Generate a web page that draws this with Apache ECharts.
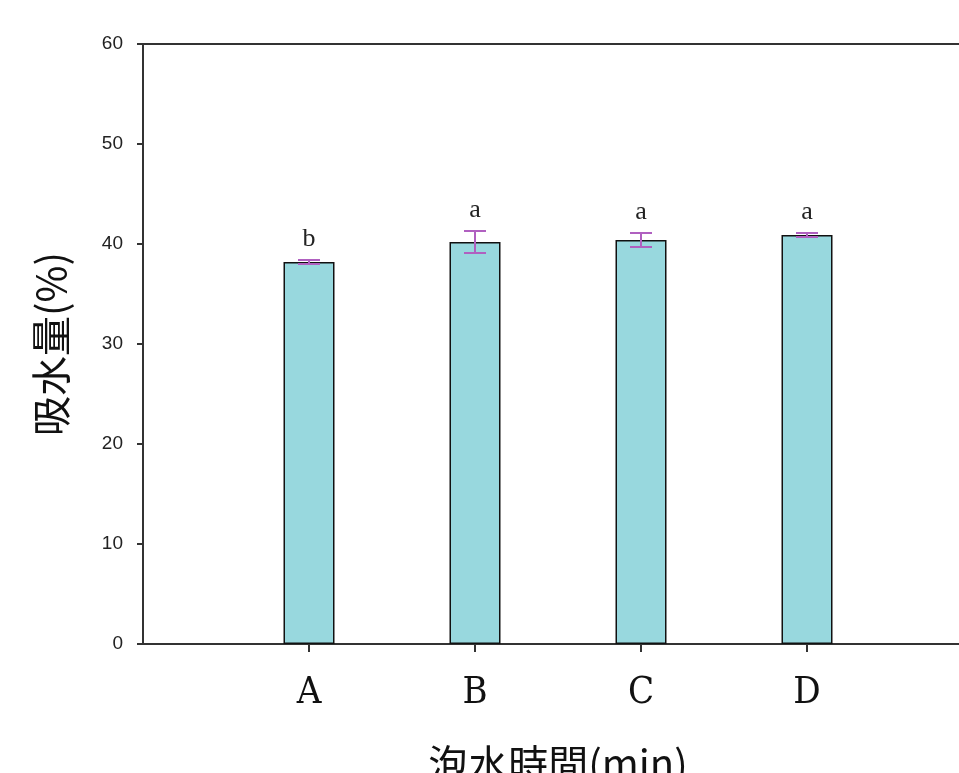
<!DOCTYPE html>
<html><head><meta charset="utf-8">
<script src="https://cdn.jsdelivr.net/npm/echarts@6/dist/echarts.min.js"></script>
<style>html,body{margin:0;padding:0;background:#fff}#c{width:959px;height:773px}</style>
</head><body><div id="c"></div>
<script>
const categories = ['', 'A', 'B', 'C', 'D', ''];
const values = [null, 38.2, 40.2, 40.4, 40.9, null];
const errors = [null, 0.2, 1.1, 0.7, 0.2, null];
const letters = ['', 'b', 'a', 'a', 'a', ''];
const yTicks = [0, 10, 20, 30, 40, 50, 60];

const chart = echarts.init(document.getElementById('c'));
const errData = values.map((v, i) => v == null ? null : [i, v, errors[i], letters[i]]).filter(d => d);

chart.setOption({
  animation: false,
  grid: {left: 143, top: 44, width: 830, height: 600, outerBoundsMode: 'none', containLabel: false, show: true, borderColor: '#333', borderWidth: 2, backgroundColor: 'transparent'},
  xAxis: {
    type: 'category', data: categories, boundaryGap: false,
    axisLine: {lineStyle: {color: '#333', width: 2}},
    axisTick: {show: true, length: 8, lineStyle: {color: '#333', width: 2}, interval: (i, v) => v !== ''},
    axisLabel: {fontFamily: 'DejaVu Serif Condensed, Liberation Serif, serif', fontSize: 38, color: '#111', margin: 30, interval: 0},
    name: '泡水時間(min)', nameLocation: 'middle', nameGap: 100,
    nameTextStyle: {fontFamily: 'Noto Sans CJK TC', fontSize: 40, color: '#111'}
  },
  yAxis: {
    type: 'value', min: yTicks[0], max: yTicks[yTicks.length - 1], interval: 10,
    axisLine: {show: true, lineStyle: {color: '#333', width: 2}},
    axisTick: {show: true, length: 6, lineStyle: {color: '#333', width: 2}},
    splitLine: {show: false},
    axisLabel: {fontFamily: 'Liberation Sans, Arial', fontSize: 19, color: '#222', margin: 20},
    name: '吸水量(%)', nameLocation: 'middle', nameGap: 72, nameRotate: 90,
    nameTextStyle: {fontFamily: 'Noto Sans CJK TC', fontSize: 40, color: '#111'}
  },
  series: [
    {
      type: 'bar', data: values, barWidth: 51,
      itemStyle: {color: '#98D8DE', borderColor: '#111', borderWidth: 1.5}
    },
    {
      type: 'custom', data: errData, z: 10,
      renderItem: function (params, api) {
        const x = api.value(0), v = api.value(1), e = api.value(2);
        const top = api.coord([x, v + e]);
        const bot = api.coord([x, v - e]);
        const hw = 11;
        const st = {stroke: '#B060C0', lineWidth: 2};
        return {
          type: 'group', children: [
            {type: 'line', shape: {x1: top[0], y1: top[1], x2: bot[0], y2: bot[1]}, style: st},
            {type: 'line', shape: {x1: top[0] - hw, y1: top[1], x2: top[0] + hw, y2: top[1]}, style: st},
            {type: 'line', shape: {x1: bot[0] - hw, y1: bot[1], x2: bot[0] + hw, y2: bot[1]}, style: st},
            {type: 'text', x: top[0], y: top[1] - 8, style: {text: api.value(3), font: '26px "Liberation Serif", serif', fill: '#222', align: 'center', verticalAlign: 'bottom'}}
          ]
        };
      }
    }
  ]
});
</script></body></html>
